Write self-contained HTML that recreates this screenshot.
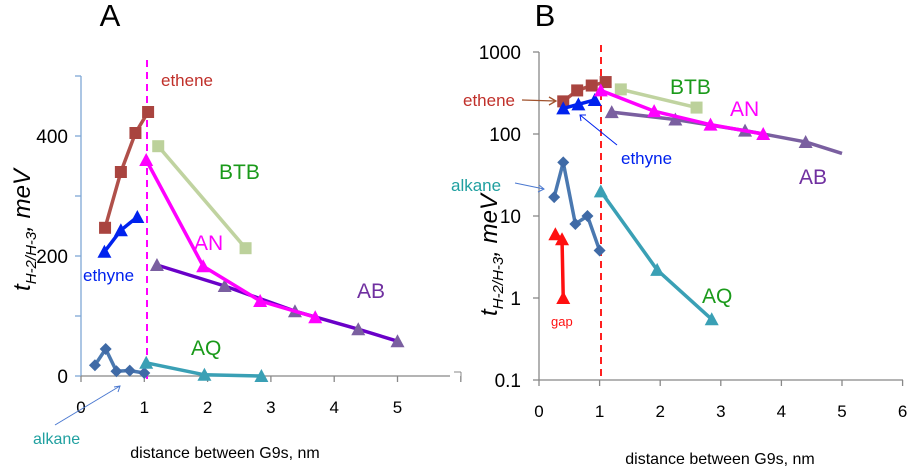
<!DOCTYPE html>
<html><head><meta charset="utf-8"><style>
html,body{margin:0;padding:0;background:#fff;}
svg{display:block;font-family:"Liberation Sans",Arial,sans-serif;}
</style></head><body>
<svg id="chart" width="907" height="468" viewBox="0 0 907 468" xmlns="http://www.w3.org/2000/svg"></svg>
<script>
// ---------- Panel A data (linear) ----------
const xTicksA = [0,1,2,3,4,5];
const yTicksA = [0,200,400];
const etheneAx = [0.38,0.63,0.86,1.06];
const etheneAy = [247,340,405,440];
const ethyneAx = [0.37,0.63,0.89];
const ethyneAy = [207,243,265];
const btbAx = [1.22,2.6];
const btbAy = [383,213];
const anAx = [1.03,1.93,2.83,3.7];
const anAy = [360,183,125,98];
const abAx = [1.2,2.27,3.38,4.38,5];
const abAy = [185,150,108,78,58];
const alkaneAx = [0.22,0.39,0.56,0.77,1.0];
const alkaneAy = [18,45,8,9,5];
const aqAx = [1.03,1.95,2.85];
const aqAy = [22,2,0];
// ---------- Panel B data (log) ----------
const xTicksB = [0,1,2,3,4,5,6];
const yTicksB = [0.1,1,10,100,1000];
const etheneBx = [0.4,0.63,0.87,1.1];
const etheneBy = [250,340,390,430];
const ethyneBx = [0.4,0.65,0.92];
const ethyneBy = [205,230,260];
const btbBx = [1.35,2.6];
const btbBy = [350,210];
const anBx = [1.02,1.9,2.83,3.7];
const anBy = [340,190,130,100];
const abBx = [1.2,2.25,3.4,4.4,5];
const abBy = [185,150,110,80,58];
const alkaneBx = [0.25,0.4,0.6,0.8,1.0];
const alkaneBy = [17,45,8,10,3.8];
const aqBx = [1.02,1.95,2.85];
const aqBy = [20,2.2,0.55];
const gapBx = [0.27,0.38,0.4];
const gapBy = [6,5.2,1];

const NS="http://www.w3.org/2000/svg";
const svg=document.getElementById('chart');
function mk(tag,attrs,parent){const e=document.createElementNS(NS,tag);for(const k in attrs)e.setAttribute(k,attrs[k]);(parent||svg).appendChild(e);return e;}
function txt(s,x,y,size,fill,parent,anchor,extra){const t=mk('text',Object.assign({x:x,y:y,'font-size':size,fill:fill,'text-anchor':anchor||'start'},extra||{}),parent);t.textContent=s;return t;}

const xA=v=>81+v*63.3, yA=v=>376-v*0.6;
const xB=v=>539+v*60.6, yB=v=>298-Math.log10(v)*82;

function marker(g,shape,x,y,c){
  let m;
  if(shape==='sq') m=mk('rect',{x:x-6,y:y-6,width:12,height:12,fill:c},g);
  else if(shape==='tri') m=mk('polygon',{points:`${x},${y-7} ${x-7},${y+6} ${x+7},${y+6}`,fill:c},g);
  else m=mk('polygon',{points:`${x},${y-6} ${x+6},${y} ${x},${y+6} ${x-6},${y}`,fill:c},g);
  
  
}
function series(name,xs,ys,sx,sy,color,mcolor,shape,noLastMarker){
  const g=mk('g',{});
  
  
  const pts=xs.map((v,i)=>sx(v)+','+sy(ys[i])).join(' ');
  mk('polyline',{points:pts,fill:'none',stroke:color,'stroke-width':3.5,'stroke-linejoin':'round'},g);
  xs.forEach((v,i)=>{ if(noLastMarker && i===xs.length-1) return; marker(g,shape,sx(v),sy(ys[i]),mcolor);});
}
function ytitle(x,y,parent,name){
  const t=txt('',x,y,24,'#000',parent,'middle',{transform:`rotate(-90 ${x} ${y})`,'font-style':'italic'});
  t.innerHTML='t<tspan font-size="15" dy="6">H-2/H-3</tspan><tspan dy="-6">, meV</tspan>';
  
}

// ---------- Panel A axes ----------
const axA=mk('g',{});


mk('line',{x1:81,y1:76,x2:81,y2:376,stroke:'#7fa7d6','stroke-width':1.3},axA);
for(let v=0;v<=500;v+=100) mk('line',{x1:75,y1:yA(v),x2:81,y2:yA(v),stroke:'#7fa7d6','stroke-width':1.3},axA);
mk('line',{x1:81,y1:376,x2:450,y2:376,stroke:'#888','stroke-width':1.3},axA);
for(let v=0;v<=6;v++) mk('line',{x1:xA(v),y1:376,x2:xA(v),y2:382,stroke:'#888','stroke-width':1.3},axA);
yTicksA.forEach(v=>txt(String(v),68,yA(v)+7,19,'#000',axA,'end'));
xTicksA.forEach(v=>txt(String(v),xA(v),413,17,'#000',axA,'middle'));
ytitle(30,230,axA,'y-axis-title-a');
txt('distance between G9s, nm',225,458,16,'#000',axA,'middle');
txt('A',110,26,31,'#000',axA,'middle');
mk('line',{x1:147,y1:60,x2:147,y2:380,stroke:'#ff00ff','stroke-width':2,'stroke-dasharray':'7,5'},axA);

series('ethene-a',etheneAx,etheneAy,xA,yA,'#b0504a','#a9443f','sq');
series('ethyne-a',ethyneAx,ethyneAy,xA,yA,'#0022ee','#0022ee','tri');
series('btb-a',btbAx,btbAy,xA,yA,'#c0d3a0','#bcd19b','sq');
series('ab-a',abAx,abAy,xA,yA,'#6a00c8','#7a5fa0','tri');
series('an-a',anAx,anAy,xA,yA,'#ff00ff','#ff00ff','tri');
series('alkane-a',alkaneAx,alkaneAy,xA,yA,'#4a78b0','#3f6aa6','dia');
series('aq-a',aqAx,aqAy,xA,yA,'#3aa0b5','#3aa0b5','tri');
txt('ethene',161,86,17,'#c0302a');
txt('BTB',219,179,21,'#1a9a1a');
txt('AN',194,250,21,'#ff00ff');
txt('ethyne',83,281,17,'#0022ee');
txt('AB',357,298,21,'#7030a0');
txt('AQ',191,355,21,'#1a9a1a');
txt('alkane',33,444,16,'#20a0a0');
mk('line',{x1:55,y1:425,x2:120,y2:386,stroke:'#4a78d0','stroke-width':1});
mk('path',{d:'M114,387 L120,386 L118,392',fill:'none',stroke:'#4a78d0','stroke-width':1});

// ---------- Panel B axes ----------
const axB=mk('g',{});


mk('line',{x1:539,y1:52,x2:539,y2:380,stroke:'#888','stroke-width':1.3},axB);
yTicksB.forEach(v=>mk('line',{x1:533,y1:yB(v),x2:539,y2:yB(v),stroke:'#888','stroke-width':1.3},axB));
mk('line',{x1:539,y1:380,x2:903,y2:380,stroke:'#888','stroke-width':1.3},axB);
xTicksB.forEach(v=>mk('line',{x1:xB(v),y1:380,x2:xB(v),y2:386,stroke:'#888','stroke-width':1.3},axB));
yTicksB.forEach(v=>txt(String(v),521,yB(v)+7,19,'#000',axB,'end'));
xTicksB.forEach(v=>txt(String(v),xB(v),417,17,'#000',axB,'middle'));
ytitle(497,255,axB,'y-axis-title-b');
txt('distance between G9s, nm',720,464,16,'#000',axB,'middle');
txt('B',545,26,31,'#000',axB,'middle');
mk('line',{x1:601,y1:45,x2:601,y2:380,stroke:'#ff2020','stroke-width':2,'stroke-dasharray':'7,5'},axB);
mk('line',{x1:454,y1:372,x2:461,y2:372,stroke:'#888','stroke-width':1},axB);
mk('line',{x1:461,y1:372,x2:461,y2:380,stroke:'#888','stroke-width':1},axB);

series('ethene-b',etheneBx,etheneBy,xB,yB,'#b0504a','#a9443f','sq');
series('ethyne-b',ethyneBx,ethyneBy,xB,yB,'#0022ee','#0022ee','tri');
series('btb-b',btbBx,btbBy,xB,yB,'#c0d3a0','#bcd19b','sq');
series('ab-b',abBx,abBy,xB,yB,'#7a5fa0','#7a5fa0','tri',true);
series('an-b',anBx,anBy,xB,yB,'#ff00ff','#ff00ff','tri');
series('alkane-b',alkaneBx,alkaneBy,xB,yB,'#4a78b0','#3f6aa6','dia');
series('aq-b',aqBx,aqBy,xB,yB,'#3aa0b5','#3aa0b5','tri');
series('gap-b',gapBx,gapBy,xB,yB,'#ff1010','#ff1010','tri');
txt('BTB',670,94,21,'#1a9a1a');
txt('AN',730,116,21,'#ff00ff');
txt('ethene',463,106,17,'#c0302a');
mk('line',{x1:522,y1:100,x2:555,y2:101,stroke:'#a0522d','stroke-width':1.3});
mk('path',{d:'M549,97 L556,101 L549,105',fill:'none',stroke:'#a0522d','stroke-width':1.3});
txt('ethyne',621,164,17,'#0022ee');
mk('line',{x1:617,y1:145,x2:580,y2:115,stroke:'#0022ee','stroke-width':1});
mk('path',{d:'M581,121 L580,115 L586,115',fill:'none',stroke:'#0022ee','stroke-width':1});
txt('AB',799,184,21,'#7030a0');
txt('alkane',451,191,17,'#20a0a0');
mk('line',{x1:515,y1:183,x2:544,y2:189,stroke:'#4a78d0','stroke-width':1});
mk('path',{d:'M539,185 L544,189 L538,192',fill:'none',stroke:'#4a78d0','stroke-width':1});
txt('AQ',702,303,21,'#1a9a1a');
txt('gap',551,326,13,'#ff1010');
</script>
</body></html>
